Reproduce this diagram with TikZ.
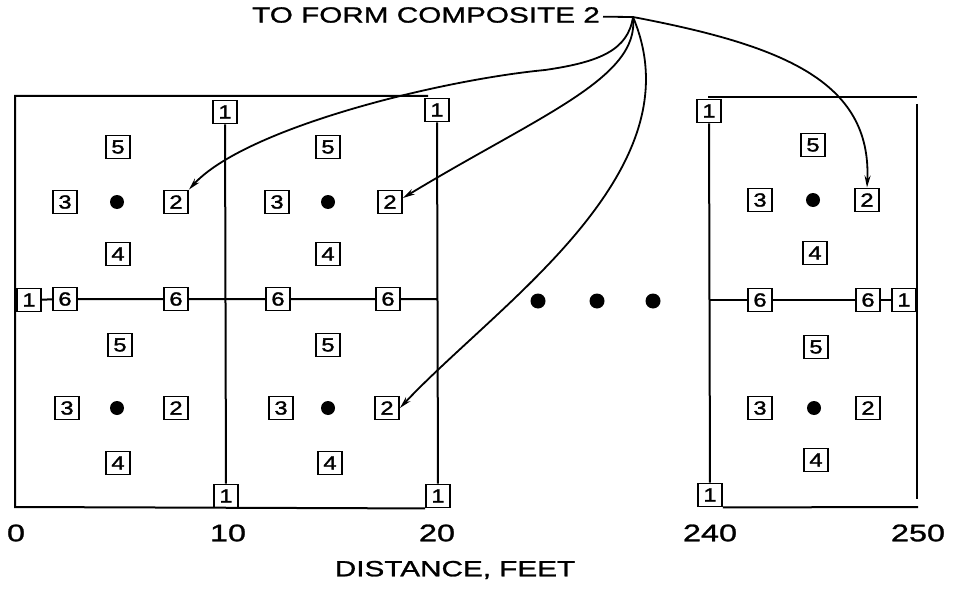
\documentclass[tikz,border=0pt]{standalone}
\usepackage{fontspec}
\setmainfont{Liberation Sans}
\newfontfamily\lab[FakeStretch=1.35,FakeBold=1.2]{Liberation Sans}
\newfontfamily\labn[FakeStretch=1.25,FakeBold=1.5]{Liberation Sans}
\usetikzlibrary{arrows.meta}
\begin{document}
\begin{tikzpicture}[x=1pt,y=-1pt,
  box/.style={draw,fill=white,line width=1.9pt,minimum width=24pt,minimum height=23pt,inner sep=0pt,font=\labn\fontsize{19}{19}\selectfont},
  ln/.style={line width=2pt},
  dot/.style={circle,fill=black,inner sep=0pt,minimum size=14pt},
  bigdot/.style={circle,fill=black,inner sep=0pt,minimum size=15pt},
  lead/.style={line width=1.8pt,-{Stealth[length=12pt,width=6pt]}},
  axlab/.style={font=\lab\fontsize{24}{24}\selectfont,inner sep=0pt},
  ttl/.style={font=\lab\fontsize{22}{22}\selectfont,inner sep=0pt}]
\useasboundingbox[fill=white] (0,0) rectangle (953,591);

% ---------- left panel boxes on dividers
\node[box] (tl1) at (225,112) {1};
\node[box] (tr1) at (437,110) {1};
\node[box] (bl1) at (226,496) {1};
\node[box] (br1) at (438,496) {1};
\node[box] (lf1) at (29,300) {1};
\node[box] (h6a) at (65,299) {6};
\node[box] (h6b) at (176,299) {6};
\node[box] (h6c) at (278,299) {6};
\node[box] (h6d) at (388,299) {6};
\coordinate (LTL) at (15,96);
\coordinate (LTR) at (428,96);
\coordinate (LBL) at (15,507);
\coordinate (LRH) at (437,299);

\draw[ln] (LTR) -- (LTL) -- (LBL) -- (br1.south west);
\draw[ln] (tl1) -- (bl1);
\draw[ln] (tr1) -- (br1);
\draw[ln] (lf1) -- (h6a) -- (h6b) -- (h6c) -- (h6d) -- (LRH);

% cell 1
\node[box] (a5) at (118,147) {5};
\node[box] (a3) at (65,202) {3};
\node[dot] (ac) at (117,202) {};
\node[box] (a2) at (176,202) {2};
\node[box] (a4) at (118,254) {4};
% cell 2
\node[box] (b5) at (328,147) {5};
\node[box] (b3) at (277,202) {3};
\node[dot] (bc) at (328,202) {};
\node[box] (b2) at (390,202) {2};
\node[box] (b4) at (328,254) {4};
% cell 3
\node[box] (c5) at (120,345) {5};
\node[box] (c3) at (67,408) {3};
\node[dot] (cc) at (117,408) {};
\node[box] (c2) at (176,408) {2};
\node[box] (c4) at (118,463) {4};
% cell 4
\node[box] (d5) at (328,345) {5};
\node[box] (d3) at (281,408) {3};
\node[dot] (dc) at (328,408) {};
\node[box] (d2) at (387,408) {2};
\node[box] (d4) at (330,463) {4};

% ---------- dots between
\node[bigdot] (g1) at (538,301) {};
\node[bigdot] (g2) at (597,301) {};
\node[bigdot] (g3) at (653,301) {};

% ---------- right panel
\node[box] (rt1) at (709,111) {1};
\node[box] (rb1) at (710,495) {1};
\node[box] (rr1) at (904,300) {1};
\node[box] (r6a) at (760,300) {6};
\node[box] (r6b) at (868,300) {6};
\coordinate (RTL) at (708,97);
\coordinate (RTR) at (917,97);
\coordinate (RRT) at (917,104);
\coordinate (RRB) at (917,499);
\coordinate (RBR) at (918,507);
\coordinate (RHL) at (710,300);

\draw[ln] (RTL) -- (RTR);
\draw[ln] (rt1) -- (rb1);
\draw[ln] (rb1.south east) -- (RBR);
\draw[line width=1.6pt] (RRT) -- (RRB);
\draw[ln] (RHL) -- (r6a) -- (r6b) -- (rr1);

\node[box] (e5) at (813,145) {5};
\node[box] (e3) at (760,200) {3};
\node[dot] (ec) at (813,200) {};
\node[box] (r2) at (867,200) {2};
\node[box] (e4) at (815,253) {4};

\node[box] (f5) at (816,347) {5};
\node[box] (f3) at (760,408) {3};
\node[dot] (fc) at (814,408) {};
\node[box] (f2) at (868,408) {2};
\node[box] (f4) at (816,460) {4};

% ---------- axis labels
\node[axlab] (x0) at (16,533) {0};
\node[axlab] (x10) at (228,533) {10};
\node[axlab] (x20) at (437,533) {20};
\node[axlab] (x240) at (710,533) {240};
\node[axlab] (x250) at (918,533) {250};
\node[ttl] (xt) at (455,570) {DISTANCE, FEET};

% ---------- title and leaders
\node[ttl,anchor=east,inner xsep=3pt] (title) at (603,15) {TO FORM COMPOSITE 2};
\coordinate (O) at (633,17);
\draw[line width=1.8pt] (title) -- (O);
\draw[lead] (O) .. controls (628,50) and (600,62) .. (545,70)
                .. controls (440,80) and (245,128) .. (a2.north east);
\draw[lead] (O) .. controls (640,78) and (540,115) .. ([yshift=4pt]b2.east);
\draw[lead] (O) .. controls (668,100) and (630,180) .. (545,268)
                .. controls (500,315) and (440,365) .. (d2.east);
\draw[lead] (O) .. controls (780,45) and (872,80) .. (r2.north);
\end{tikzpicture}
\end{document}
